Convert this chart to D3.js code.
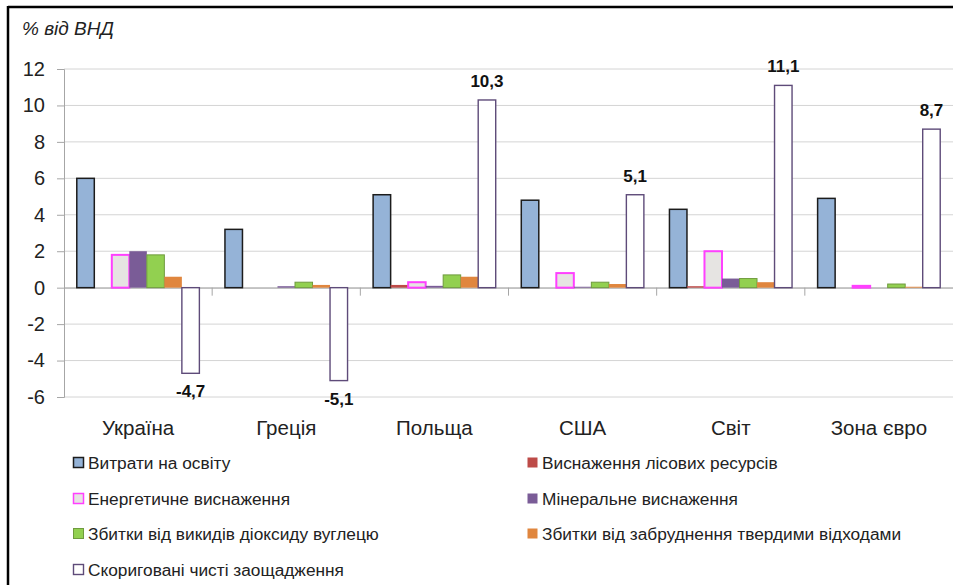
<!DOCTYPE html>
<html><head><meta charset="utf-8">
<script src="https://cdn.jsdelivr.net/npm/d3@7"></script>
<style>
body{margin:0;background:#fff;}
svg{display:block;font-family:"Liberation Sans",Arial,sans-serif;}
</style></head>
<body><svg id="c" width="953" height="585"></svg>
<script>
const countries = ["Україна","Греція","Польща","США","Світ","Зона євро"];
const seriesNames = ["Витрати на освіту","Виснаження лісових ресурсів","Енергетичне виснаження","Мінеральне виснаження","Збитки від викидів діоксиду вуглецю","Збитки від забруднення твердими відходами","Скориговані чисті заощадження"];
const education = [6.0, 3.2, 5.1, 4.8, 4.3, 4.9];
const forest    = [0, 0, 0.15, 0, 0.08, 0];
const energy    = [1.8, 0, 0.3, 0.8, 2.0, 0.1];
const mineral   = [2.0, 0.08, 0.1, 0.05, 0.5, 0];
const co2       = [1.8, 0.3, 0.7, 0.3, 0.5, 0.2];
const waste     = [0.6, 0.15, 0.6, 0.2, 0.3, 0.05];
const ans       = [-4.7, -5.1, 10.3, 5.1, 11.1, 8.7];
const yTicks    = [-6,-4,-2,0,2,4,6,8,10,12];
const yTitle    = "% від ВНД";

const seriesValues = [education, forest, energy, mineral, co2, waste, ans];
const styles = [
  {fill:"#95b3d7", stroke:"#1c1c1c", sw:1.5},
  {fill:"#bd4b48", stroke:"none", sw:0},
  {fill:"#e6e4e2", stroke:"#ff40ff", sw:2},
  {fill:"#7a5c97", stroke:"none", sw:0},
  {fill:"#92d050", stroke:"#6f9b3e", sw:1},
  {fill:"#e0863e", stroke:"none", sw:0},
  {fill:"#ffffff", stroke:"#5e4b79", sw:1.4}
];
const fmtNum = v => String(v).replace(".", ",");
const fmtVal = v => v.toFixed(1).replace(".", ",");

const svg = d3.select("#c");
const L = 64, R = 953, T = 69, B = 397;
const y = d3.scaleLinear().domain([-6,12]).range([B,T]);
const x = d3.scaleBand().domain(countries).range([L,R]).padding(0);
const xs = d3.scaleBand().domain(d3.range(7)).range([0,x.bandwidth()]).paddingInner(0).paddingOuter(0.73);

// frame
svg.append("line").attr("x1",8).attr("x2",953).attr("y1",7).attr("y2",7).attr("stroke","#000").attr("stroke-width",2.5);
svg.append("line").attr("x1",8).attr("x2",8).attr("y1",6).attr("y2",585).attr("stroke","#000").attr("stroke-width",2.5);

// grid
svg.append("g").selectAll("line").data(yTicks).join("line")
  .attr("x1",L).attr("x2",R).attr("y1",d=>y(d)).attr("y2",d=>y(d))
  .attr("stroke","#d4d4d4").attr("stroke-width",1);

// y axis
const yAxis = svg.append("g").attr("transform",`translate(${L},0)`)
  .call(d3.axisLeft(y).tickValues(yTicks).tickSize(7).tickPadding(12).tickFormat(fmtNum));
yAxis.select(".domain").attr("stroke","#a6a6a6");
yAxis.selectAll(".tick line").attr("stroke","#a6a6a6");
yAxis.selectAll("text").attr("font-size",20).attr("fill","#222").attr("font-family","Liberation Sans, Arial");

// x axis at zero
const xAxis = svg.append("g").attr("transform",`translate(0,${y(0)})`)
  .call(d3.axisBottom(x).tickSize(0).tickFormat(""));
xAxis.select(".domain").attr("stroke","#a6a6a6");
svg.append("g").selectAll("line").data(countries.slice(1)).join("line")
  .attr("x1",d=>x(d)).attr("x2",d=>x(d)).attr("y1",y(0)).attr("y2",y(0)+8)
  .attr("stroke","#a6a6a6");

// bars
seriesValues.forEach((vals, si) => {
  const st = styles[si];
  svg.append("g").selectAll("rect").data(vals.map((v,i)=>({v,c:countries[i]})).filter(d=>d.v!==0)).join("rect")
    .attr("x", d=>x(d.c)+xs(si))
    .attr("width", xs.bandwidth())
    .attr("y", d=>y(Math.max(0,d.v)))
    .attr("height", d=>Math.abs(y(d.v)-y(0)))
    .attr("fill", st.fill).attr("stroke", st.stroke).attr("stroke-width", st.sw);
});

// ANS labels
svg.append("g").selectAll("text").data(ans.map((v,i)=>({v,c:countries[i]}))).join("text")
  .attr("x", d=>x(d.c)+xs(6)+xs.bandwidth()/2)
  .attr("y", d=> d.v>=0 ? y(d.v)-13 : y(d.v)+24)
  .attr("text-anchor","middle").attr("font-size",17).attr("font-weight","bold").attr("fill","#111")
  .text(d=>fmtVal(d.v));

// category labels
svg.append("g").selectAll("text").data(countries).join("text")
  .attr("x", d=>x(d)+x.bandwidth()/2).attr("y", 435)
  .attr("text-anchor","middle").attr("font-size",20.5).attr("fill","#222").text(d=>d);

// title
svg.append("text").attr("x",22).attr("y",35).attr("font-size",19).attr("font-style","italic").attr("fill","#222").text(yTitle);

// legend
const legendPos = [[73,463],[527,463],[73,499],[527,499],[73,534],[527,534],[73,570]];
seriesNames.forEach((name, i) => {
  const [lx, ly] = legendPos[i];
  const st = styles[i];
  const g = svg.append("g");
  g.append("rect").attr("x",lx+0.5).attr("y",ly-5.5).attr("width",10).attr("height",10)
    .attr("fill",st.fill).attr("stroke", st.stroke==="none"? "none": st.stroke).attr("stroke-width", Math.min(st.sw,1.5));
  g.append("text").attr("x",lx+15).attr("y",ly+6).attr("font-size",17.3).attr("fill","#222").text(name);
});
</script></body></html>
